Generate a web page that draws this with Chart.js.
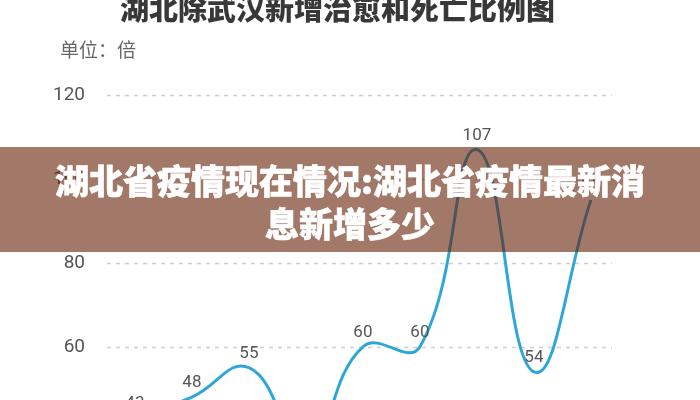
<!DOCTYPE html>
<html>
<head>
<meta charset="utf-8">
<script src="https://cdn.jsdelivr.net/npm/chart.js@4/dist/chart.umd.min.js"></script>
<style>
  html, body { margin: 0; padding: 0; width: 700px; height: 400px; overflow: hidden; background: #fff; }
  #wrap { position: relative; width: 700px; height: 400px; overflow: hidden; }
  #c { position: absolute; left: 0; top: 0; }
  #title { position: absolute; left: 0; width: 675px; top: -7px; text-align: center; font-family: "Noto Sans CJK SC", sans-serif; font-weight: 900; font-size: 29px; line-height: 29px; color: #383838; white-space: nowrap; }
  #unit { position: absolute; left: 60px; top: 38px; font-family: "Noto Sans CJK SC", sans-serif; font-size: 19px; line-height: 22px; color: #666; white-space: nowrap; }
  #banner { position: absolute; left: 0; top: 147px; width: 700px; height: 105px; background: rgba(100, 30, 5, 0.6); }
  #banner div { position: absolute; left: 0; width: 700px; top: 11px; text-align: center; font-family: "Noto Sans CJK SC", sans-serif; font-weight: 900; font-size: 34px; line-height: 43px; color: #fff; white-space: nowrap; -webkit-text-stroke: 0.6px #fff; }
</style>
</head>
<body>
<div id="wrap">
  <canvas id="c" width="700" height="540"></canvas>
  <div id="title">湖北除武汉新增治愈和死亡比例图</div>
  <div id="unit">单位：倍</div>
  <div id="banner"><div>湖北省疫情现在情况:湖北省疫情最新消<br>息新增多少</div></div>
</div>
<script>
// Data (x-axis labels are cropped out of view)
const categories = ["1", "2", "3", "4", "5", "6", "7", "8", "9"];
const ratioValues = [43, 48, 55, 36, 60, 60, 107, 54, 95];
const yTicks = [20, 40, 60, 80, 100, 120];

const points = categories.map((c, i) => ({ x: i, y: ratioValues[i] }));

const dashedGrid = {
  id: 'dashedGrid',
  beforeDatasetsDraw(chart) {
    const ctx = chart.ctx;
    const y = chart.scales.y;
    const area = chart.chartArea;
    ctx.save();
    ctx.strokeStyle = '#cfcfcf';
    ctx.lineWidth = 1.5;
    ctx.setLineDash([4, 5]);
    y.ticks.forEach(t => {
      const py = Math.round(y.getPixelForValue(t.value)) + 0.5;
      ctx.beginPath();
      ctx.moveTo(area.left, py);
      ctx.lineTo(area.right, py);
      ctx.stroke();
    });
    ctx.restore();
  }
};

const labelPlugin = {
  id: 'pointLabels',
  afterDatasetsDraw(chart) {
    const ctx = chart.ctx;
    const meta = chart.getDatasetMeta(0);
    ctx.save();
    ctx.font = '17px Roboto, "Noto Sans", sans-serif';
    ctx.fillStyle = '#555';
    ctx.textAlign = 'center';
    ctx.textBaseline = 'middle';
    meta.data.forEach((pt, i) => {
      ctx.fillText(String(ratioValues[i]), pt.x, pt.y - 14);
    });
    ctx.restore();
  }
};

new Chart(document.getElementById('c'), {
  type: 'line',
  data: {
    labels: categories,
    datasets: [{
      data: points,
      borderColor: '#2ea7d8',
      borderWidth: 3,
      pointRadius: 0,
      pointHoverRadius: 0,
      tension: 0.45,
      fill: false
    }]
  },
  options: {
    responsive: false,
    animation: false,
    events: [],
    layout: { padding: { top: 95, right: 88, bottom: 7, left: 0 } },
    plugins: { legend: { display: false }, tooltip: { enabled: false }, title: { display: false } },
    scales: {
      x: { type: 'linear', min: -0.49, max: 8.37, display: false },
      y: {
        min: yTicks[0],
        max: yTicks[yTicks.length - 1],
        afterBuildTicks(scale) { scale.ticks = yTicks.map(v => ({ value: v })); },
        afterFit(scale) { scale.width = 107; },
        border: { display: false },
        grid: { display: false },
        ticks: { padding: 14, color: '#555', font: { family: 'Roboto, "Noto Sans", sans-serif', size: 19 } }
      }
    }
  },
  plugins: [dashedGrid, labelPlugin]
});
</script>
</body>
</html>
